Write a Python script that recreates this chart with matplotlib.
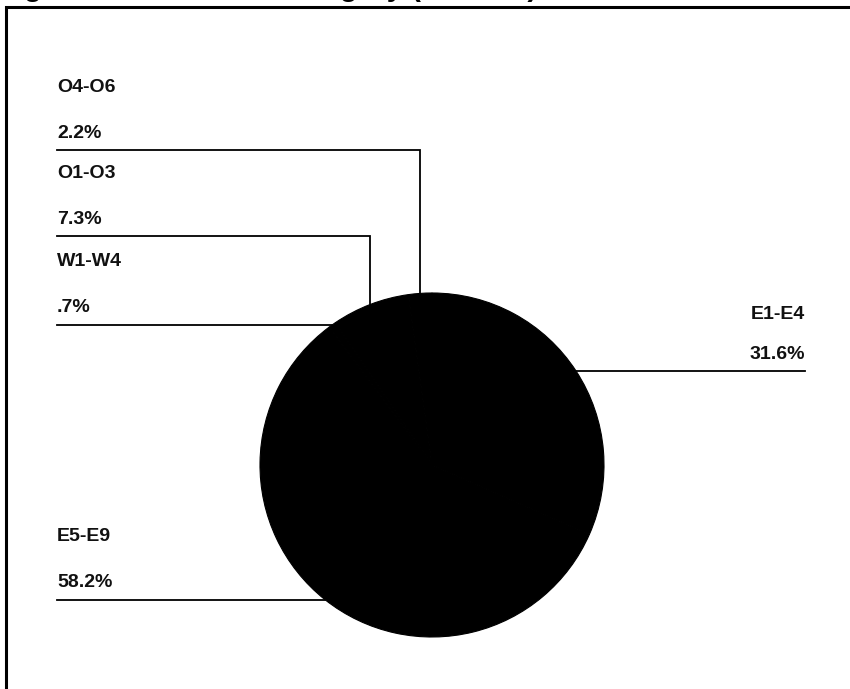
import numpy as np
import matplotlib
matplotlib.use("Agg")
import matplotlib.pyplot as plt
from matplotlib.patches import Rectangle

categories = ["E1-E4", "E5-E9", "W1-W4", "O1-O3", "O4-O6"]
values = [31.6, 58.2, 0.7, 7.3, 2.2]
pct_labels = ["31.6%", "58.2%", ".7%", "7.3%", "2.2%"]

plt.rcParams['font.family'] = ['Liberation Sans', 'DejaVu Sans']

W, H = 850, 689
fig = plt.figure(figsize=(W / 100, H / 100), dpi=100)
ax = fig.add_axes([0, 0, 1, 1])

R = 172.0  # px per data unit
cx, cy = 432.0, 465.0  # pie centre in px (from top)

wedges, _ = ax.pie(values, startangle=90, counterclock=False, radius=1.0,
                   colors=['black'] * len(values),
                   wedgeprops=dict(linewidth=0.8, edgecolor='black'))

ax.set_xlim(-cx / R, (W - cx) / R)
ax.set_ylim(-(H - cy) / R, cy / R)
ax.set_aspect('equal', adjustable='box')
ax.set_axis_off()

def py(ypx):
    return (cy - ypx) / R

def px(xpx):
    return (xpx - cx) / R

x_left = px(57)
x_right = px(805)
fs = 14
lw = 1.3

# left-side stacked label line heights for the two top slices
top_line_y = {"O4-O6": py(150), "O1-O3": py(236)}

for w, cat, pl in zip(wedges, categories, pct_labels):
    mid = np.deg2rad((w.theta1 + w.theta2) / 2)
    ex, ey = np.cos(mid), np.sin(mid)
    if cat in top_line_y:
        ly = top_line_y[cat]
        ax.plot([ex, ex, x_left], [ey, ly, ly], color='black', lw=lw,
                solid_joinstyle='miter')
        tx, ha = x_left, 'left'
        off_name = 63
    elif ex > 0:
        ly = ey
        ax.plot([ex, x_right], [ly, ly], color='black', lw=lw)
        tx, ha = x_right, 'right'
        off_name = 57
    else:
        ly = ey
        ax.plot([ex, x_left], [ly, ly], color='black', lw=lw)
        tx, ha = x_left, 'left'
        off_name = 63
    ax.text(tx, ly + 17 / R, pl, ha=ha, va='center', fontsize=fs,
            fontweight='bold', color='#111111')
    ax.text(tx, ly + off_name / R, cat, ha=ha, va='center', fontsize=fs,
            fontweight='bold', color='#111111')

# frame (left and top edges visible)
fig.patches.append(Rectangle((6 / W, -0.1), 1.2, 1.1 - 7 / H,
                             transform=fig.transFigure, fill=False,
                             edgecolor='black', lw=2.2, clip_on=False))

# title, mostly cut off above the top edge
fig.text(-2 / W, 1 + 4 / H, "Figure 5. Personnel Category (Percent)",
         ha='left', va='baseline', fontsize=21, fontweight='bold')

fig.savefig("out.png", dpi=100)
